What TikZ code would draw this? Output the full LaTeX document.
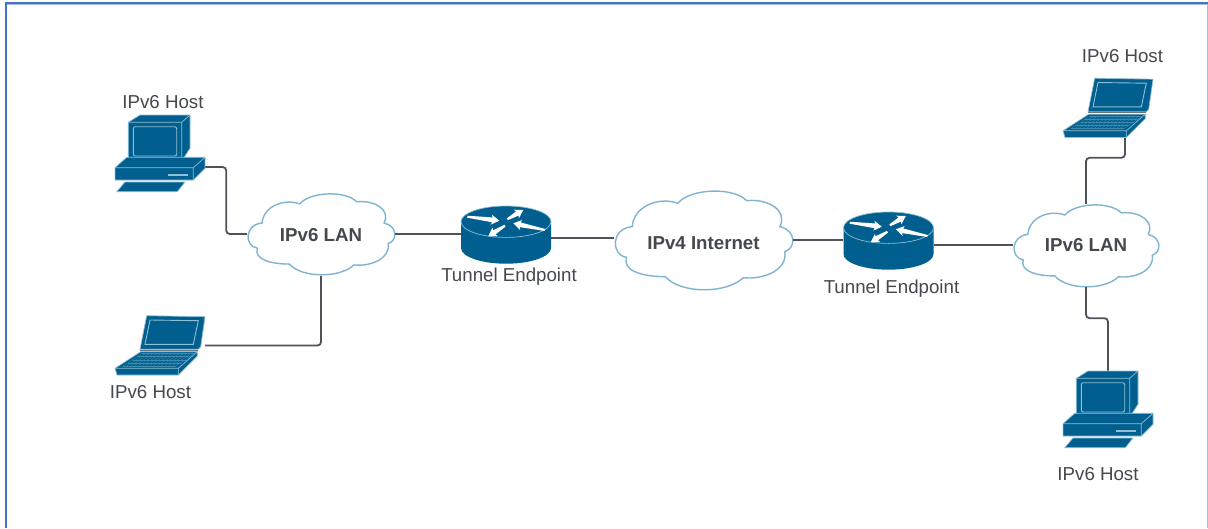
\documentclass[tikz,border=0pt]{standalone}
\usepackage{fontspec}
\setmainfont{Liberation Sans}
\definecolor{icon}{HTML}{005F8E}
\definecolor{edge}{HTML}{8FBFD6}
\definecolor{cloudline}{HTML}{7FB4D0}
\definecolor{wire}{HTML}{4E5259}
\definecolor{ink}{HTML}{45484D}
\definecolor{frameblue}{HTML}{4472C4}
\definecolor{framepale}{HTML}{A9BCE4}
\tikzset{
  face/.style={fill=icon,draw=edge,line width=0.7pt,line join=round},
  box/.style={inner sep=0pt,minimum width=#1},
  wireline/.style={draw=wire,line width=1.8pt,rounded corners=3.5pt},
  hostlabel/.style={text=ink,font=\fontsize{18.7}{22}\selectfont,inner sep=0pt},
  cloudlabel/.style={text=ink,font=\fontsize{18.7}{22}\selectfont\bfseries,inner sep=0pt},
  cloudline/.style={fill=white,draw=cloudline,line width=1.4pt,line join=round},
}
\newcommand{\desktopicon}[2]{%
  \begin{scope}[shift={(#1,#2)}]
    \path[face] (25,0)--(75,0)--(75,33.3)--(66.7,46)--(13.3,46)--(13.3,7.3)--cycle;
    \draw[edge,line width=0.7pt] (13.3,7.3)--(66.7,7.3)--(75,0) (66.7,7.3)--(66.7,46);
    \draw[edge,line width=0.9pt,rounded corners=2pt] (18.3,11.7) rectangle (61.7,41);
    \path[face] (0,52.7)--(11.7,42.3)--(90,42.3)--(90,53.3)--(78.3,65)--(0,65)--cycle;
    \draw[edge,line width=0.7pt] (0,52.7)--(78.3,52.7)--(90,42.3) (78.3,52.7)--(78.3,65);
    \fill[edge] (53.3,59) rectangle (73.3,61);
    \path[face] (10,67)--(70,67)--(62.3,76.7)--(1.7,76.7)--cycle;
  \end{scope}}
\newcommand{\laptopicon}[2]{%
  \begin{scope}[shift={(#1,#2)}]
    \path[face] (31.7,0.7)--(90,1.7)--(85.7,31.7)--(83.3,34.3)--(25,34.3)--cycle;
    \draw[edge,line width=0.9pt] (35,5)--(83.3,5.7)--(78.3,29.3)--(30,29.3)--cycle;
    \draw[wire!80,line width=1.1pt] (25,35.2)--(83.3,35.2);
    \path[face] (25.7,36.7)--(82.3,36.7)--(82.3,41)--(63.3,60)--(2,60)--(0,53.3)--cycle;
    \draw[edge,line width=0.7pt] (0,53.3)--(63.3,53.3)--(82.3,36.7) (63.3,53.3)--(63.3,60);
    \foreach \t in {0,0.071,...,1.01}
      \draw[edge!45!icon,line width=0.3pt] ({27+53*\t},38.5)--({8+53*\t},51);
    \foreach \t in {0,0.25,...,1.01}
      \draw[edge!45!icon,line width=0.3pt] ({27-19*\t},{38.5+12.5*\t})--({80-19*\t},{38.5+12.5*\t});
  \end{scope}}
\newcommand{\flowarrow}[4]{%
  \pgfmathsetmacro{\fdx}{#3-#1}\pgfmathsetmacro{\fdy}{#4-#2}%
  \pgfmathsetmacro{\flen}{sqrt(\fdx*\fdx+\fdy*\fdy)}%
  \begin{scope}[shift={(#1,#2)},x={({\fdx/\flen*1pt},{-\fdy/\flen*1pt})},y={({\fdy/\flen*1pt},{\fdx/\flen*1pt})}]
    \fill[white] (0,-1)--({\flen-7},-2.4)--({\flen-8},-5)--(\flen,0)--({\flen-8},5)--({\flen-7},2.4)--(0,1)--cycle;
  \end{scope}}
\newcommand{\routericon}[2]{%
  \begin{scope}[shift={(#1,#2)}]
    \fill[icon] (0,15.7)--(0,42) arc[start angle=180,end angle=0,x radius=45,y radius=15.7]--(90,15.7)--cycle;
    \path[face] (45,15.7) ellipse[x radius=45,y radius=15.7];
    \flowarrow{6.3}{10.7}{38.3}{14.7}
    \flowarrow{46.3}{13.3}{62.3}{4}
    \flowarrow{84}{24}{52.3}{17.3}
    \flowarrow{44}{19.7}{27.3}{30}
  \end{scope}}
\newcommand{\cloudicon}[4]{%
  \begin{scope}[shift={(#1,#2)},xscale=#3/540,yscale=#4/300,shift={(-40,-30)}]
    \path[cloudline] (95,140) .. controls (100,75) and (180,50) .. (232,70)
      .. controls (270,25) and (400,20) .. (440,62)
      .. controls (510,55) and (565,95) .. (540,140)
      .. controls (590,150) and (590,205) .. (555,215)
      .. controls (565,270) and (490,300) .. (430,293)
      .. controls (380,342) and (240,342) .. (195,290)
      .. controls (120,290) and (65,270) .. (78,232)
      .. controls (30,225) and (30,145) .. (95,140) -- cycle;
  \end{scope}}
\begin{document}
\begin{tikzpicture}[x=1pt,y=-1pt]
\useasboundingbox (0,0) rectangle (1208,528);
\fill[white] (0,0) rectangle (1208,528);
% frame
\fill[framepale] (1206.5,3) rectangle (1208,528);
\fill[frameblue] (5,2) rectangle (1208,4.4);
\fill[framepale] (7,4.4) rectangle (1206.5,5);
\fill[frameblue] (5,2) rectangle (7.2,528);
% invisible node boxes
\node[box=90pt,minimum height=77pt] (hostA) at (160,153.5) {};
\node[box=90pt,minimum height=60pt] (hostB) at (160,345.5) {};
\node[box=90pt,minimum height=60pt] (hostC) at (1108,107.5) {};
\node[box=90pt,minimum height=77pt] (hostD) at (1108,409.5) {};
\node[box=90pt,minimum height=58pt] (routerA) at (506,235) {};
\node[box=90pt,minimum height=58pt] (routerB) at (888.5,241) {};
% clouds
\cloudicon{247}{193}{148}{82}
\cloudicon{614}{190}{179}{100}
\cloudicon{1013}{204}{146}{83}
\node[cloudlabel,minimum width=148pt,minimum height=82pt] (lanA) at (321,235) {IPv6 LAN};
\node[cloudlabel,minimum width=179pt,minimum height=100pt] (inet) at (703.5,243) {IPv4 Internet};
\node[cloudlabel,minimum width=146pt,minimum height=83pt] (lanB) at (1086,245.5) {IPv6 LAN};
% connectors
\draw[wireline] ([yshift=-13.5pt]hostA.east) -- ++(21,0) |- ([yshift=1pt]lanA.west);
\draw[wireline] (hostB.east) -| (lanA.south);
\draw[wireline] ([yshift=1pt]lanA.east) -- ([yshift=1pt]routerA.west);
\draw[wireline] ([yshift=-3pt]routerA.east) -- ([yshift=5pt]inet.west);
\draw[wireline] ([yshift=3pt]inet.east) -- ([yshift=1pt]routerB.west);
\draw[wireline] ([yshift=-4pt]routerB.east) -- ([yshift=0.5pt]lanB.west);
\draw[wireline] (lanB.north) -- ++(0,-46) -| ([xshift=17pt]hostC.south);
\draw[wireline] (lanB.south) -- ++(0,31) -| (hostD.north);
% icons
\desktopicon{115}{115}
\laptopicon{115}{315}
\laptopicon{1063}{77.5}
\desktopicon{1063}{371}
\routericon{461}{206}
\routericon{843.5}{212}
% labels
\node[hostlabel] (txtA) at (163,102) {IPv6 Host};
\node[hostlabel] (txtB) at (150.5,392.5) {IPv6 Host};
\node[hostlabel] (txtC) at (1122.5,56) {IPv6 Host};
\node[hostlabel] (txtD) at (1098,474) {IPv6 Host};
\node[hostlabel] (txtE) at (509,276.5) {Tunnel Endpoint};
\node[hostlabel] (txtF) at (891.5,288.5) {Tunnel Endpoint};
\end{tikzpicture}
\end{document}
